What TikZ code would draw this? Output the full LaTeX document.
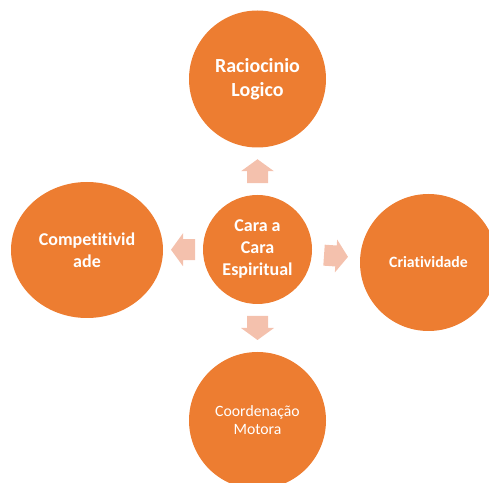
\documentclass[tikz,border=0pt]{standalone}
\usepackage{fontspec}
\setmainfont[RawFeature=-liga]{Carlito}
\usetikzlibrary{shapes.geometric,calc}
\definecolor{bolalaranja}{HTML}{ED7D31}
\definecolor{setarosa}{HTML}{F4C1AD}
\tikzset{
  bola/.style={circle, fill=bolalaranja, text=white, align=center, inner sep=0pt,
    minimum size=102.75pt, font=\bfseries\fontsize{13.5}{16.5}\selectfont},
  seta/.style={fill=setarosa}
}
% block arrow centred at #1, pointing at angle #2
\newcommand{\blocoseta}[2]{%
  \fill[seta, shift={#1}, rotate=#2] (-12,-10.5) -- (0,-10.5) -- (0,-16.5) -- (12,0)
    -- (0,16.5) -- (0,10.5) -- (-12,10.5) -- cycle;}

\begin{document}
\begin{tikzpicture}[x=0.75pt,y=0.75pt]
\useasboundingbox (0,0) rectangle (489,482);
\clip (0,0) rectangle (489,482);

\node[bola, minimum size=81.75pt] (hub) at (257.5,232.5) {Cara a\\Cara\\Espiritual};

\node[bola, font=\bfseries\fontsize{15}{18}\selectfont] (topo) at (257.5,403) {Raciocinio\\Logico};
\node[bola, ellipse, minimum width=114pt, minimum height=102pt] (esq) at (87,232) {Competitivid\\ade};
\node[bola, font=\bfseries\fontsize{11.8}{14}\selectfont] (dir) at (428.5,219.5) {Criatividade};
\node[bola, font=\fontsize{11.8}{13.5}\selectfont] (baixo) at (257.5,61.5) {Coordenação\\Motora};

\blocoseta{($(hub.north)!0.5!(topo.south)$)}{90}
\blocoseta{($(hub.south)!0.5!(baixo.north)$)}{-90}
\blocoseta{($(hub.west)!0.5!(esq.east)$)}{180}
\blocoseta{($(hub.east)!0.5!(dir.west)$)}{-4}

\end{tikzpicture}
\end{document}
